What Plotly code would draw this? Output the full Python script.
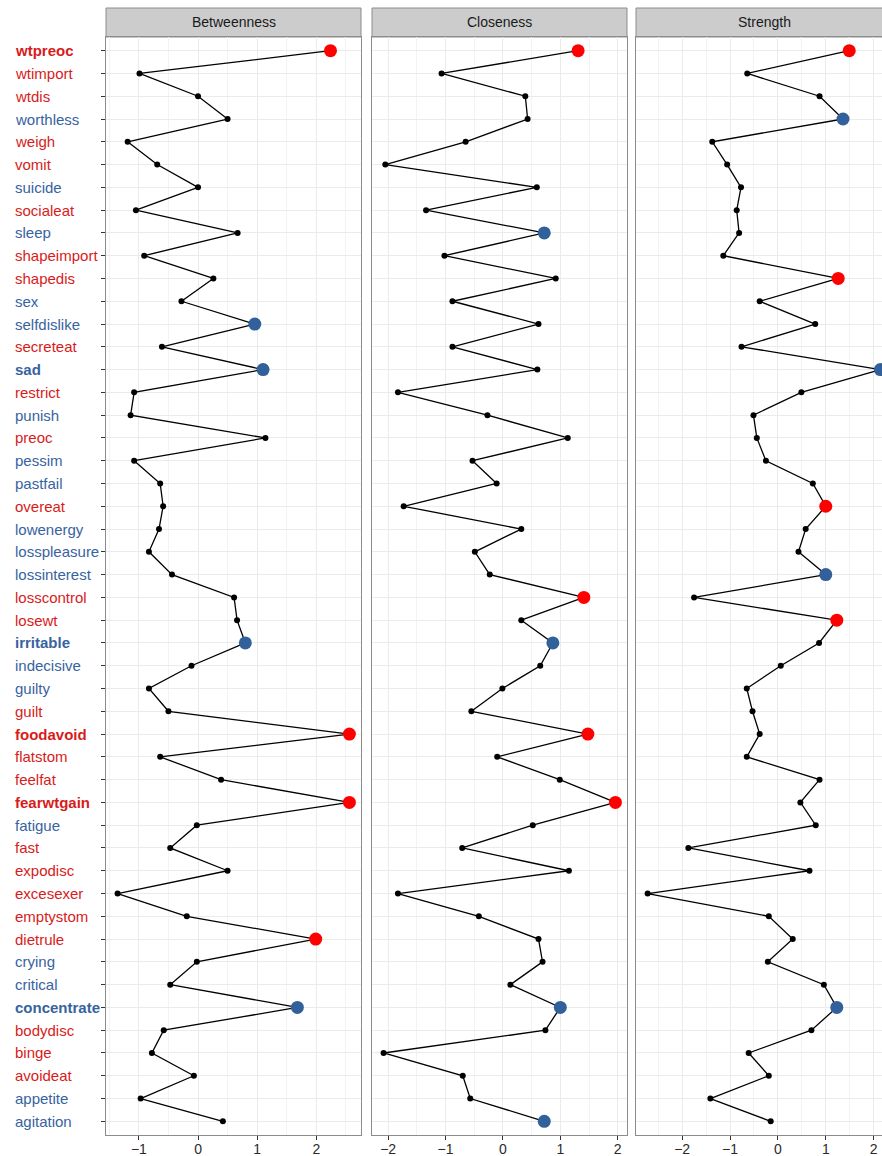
import plotly.graph_objects as go

# ---------------- data ----------------
nodes = ["wtpreoc", "wtimport", "wtdis", "worthless", "weigh", "vomit", "suicide",
         "socialeat", "sleep", "shapeimport", "shapedis", "sex", "selfdislike",
         "secreteat", "sad", "restrict", "punish", "preoc", "pessim", "pastfail",
         "overeat", "lowenergy", "losspleasure", "lossinterest", "losscontrol",
         "losewt", "irritable", "indecisive", "guilty", "guilt", "foodavoid",
         "flatstom", "feelfat", "fearwtgain", "fatigue", "fast", "expodisc",
         "excesexer", "emptystom", "dietrule", "crying", "critical", "concentrate",
         "bodydisc", "binge", "avoideat", "appetite", "agitation"]

ed_nodes = ["wtpreoc", "wtimport", "wtdis", "weigh", "vomit", "socialeat",
            "shapeimport", "shapedis", "secreteat", "restrict", "preoc", "overeat",
            "losscontrol", "losewt", "guilt", "foodavoid", "flatstom", "feelfat",
            "fearwtgain", "fast", "expodisc", "excesexer", "emptystom", "dietrule",
            "bodydisc", "binge", "avoideat"]

bold_nodes = ["wtpreoc", "sad", "irritable", "foodavoid", "fearwtgain", "concentrate"]

betweenness = [2.24, -0.99, 0.00, 0.50, -1.19, -0.69, 0.00, -1.05, 0.67, -0.91,
               0.26, -0.28, 0.96, -0.61, 1.10, -1.08, -1.14, 1.14, -1.08, -0.64,
               -0.59, -0.66, -0.83, -0.44, 0.61, 0.66, 0.80, -0.11, -0.83, -0.50,
               2.56, -0.64, 0.39, 2.56, -0.02, -0.47, 0.50, -1.36, -0.19, 1.99,
               -0.02, -0.47, 1.68, -0.58, -0.78, -0.07, -0.97, 0.42]

closeness = [1.31, -1.07, 0.39, 0.43, -0.65, -2.05, 0.59, -1.34, 0.72, -1.02,
             0.92, -0.88, 0.62, -0.88, 0.60, -1.83, -0.27, 1.13, -0.53, -0.11,
             -1.73, 0.32, -0.49, -0.23, 1.41, 0.32, 0.87, 0.65, -0.01, -0.55,
             1.48, -0.10, 0.99, 1.96, 0.52, -0.71, 1.15, -1.83, -0.42, 0.62,
             0.69, 0.13, 1.00, 0.74, -2.08, -0.70, -0.57, 0.72]

strength = [1.49, -0.64, 0.87, 1.36, -1.37, -1.06, -0.77, -0.86, -0.81, -1.14,
            1.26, -0.38, 0.78, -0.76, 2.14, 0.49, -0.51, -0.44, -0.25, 0.73,
            1.00, 0.58, 0.43, 1.00, -1.75, 1.23, 0.86, 0.06, -0.65, -0.53,
            -0.38, -0.65, 0.87, 0.47, 0.79, -1.87, 0.66, -2.72, -0.19, 0.31,
            -0.21, 0.96, 1.23, 0.70, -0.61, -0.19, -1.41, -0.15]

panel_titles = ["Betweenness", "Closeness", "Strength"]
highlight_betweenness = ["wtpreoc", "selfdislike", "sad", "irritable", "foodavoid",
                         "fearwtgain", "dietrule", "concentrate"]
highlight_closeness = ["wtpreoc", "sleep", "losscontrol", "irritable", "foodavoid",
                       "fearwtgain", "concentrate", "agitation"]
highlight_strength = ["wtpreoc", "worthless", "shapedis", "sad", "overeat",
                      "lossinterest", "losewt", "concentrate"]

# ---------------- style ----------------
W, H = 882, 1156
ML, MT = 106, 37
PANEL_BOTTOM = 1135
MR = 0
MB = H - PANEL_BOTTOM
PW = W - ML - MR
PH = H - MT - MB
FONT = "Liberation Sans, Arial, sans-serif"
RED_PT, BLUE_PT = "#ff0000", "#31609a"
RED_TX, BLUE_TX = "#d81b1b", "#3763a0"
BORDER = "#8c8c8c"
GRID = "#ebebeb"

# panel pixel extents (left, right); the third panel runs past the image edge
panel_px = [(106, 361), (372, 627), (636, 892)]

series = [betweenness, closeness, strength]
highlights = [highlight_betweenness, highlight_closeness, highlight_strength]

fig = go.Figure()

for i, (vals, hl) in enumerate(zip(series, highlights)):
    sfx = "" if i == 0 else str(i + 1)
    fig.add_trace(go.Scatter(
        x=vals, y=nodes, mode="lines+markers",
        line=dict(color="black", width=1.3),
        marker=dict(color="black", size=6),
        xaxis="x" + sfx, yaxis="y" + sfx, showlegend=False, hoverinfo="x+y"))
    hx = [v for nd, v in zip(nodes, vals) if nd in hl]
    hy = [nd for nd in nodes if nd in hl]
    hc = [RED_PT if nd in ed_nodes else BLUE_PT for nd in hy]
    fig.add_trace(go.Scatter(
        x=hx, y=hy, mode="markers",
        marker=dict(color=hc, size=13, line=dict(width=0)),
        xaxis="x" + sfx, yaxis="y" + sfx, showlegend=False, hoverinfo="x+y"))

layout = dict(
    width=W, height=H,
    margin=dict(l=ML, r=MR, t=MT, b=MB, pad=0),
    paper_bgcolor="white", plot_bgcolor="white",
    font=dict(family=FONT, size=14, color="#333333"),
    showlegend=False,
)

n = len(nodes)
shapes = []
annotations = []
for i, vals in enumerate(series):
    sfx = "" if i == 0 else str(i + 1)
    lo, hi = min(vals), max(vals)
    pad = 0.05 * (hi - lo)
    r0, r1 = lo - pad, hi + pad
    left_px, right_px = panel_px[i]
    vis_right = min(right_px, W - MR)
    r1_vis = r0 + (r1 - r0) * (vis_right - left_px) / (right_px - left_px)
    d0 = (left_px - ML) / PW
    d1 = (vis_right - ML) / PW
    layout["xaxis" + sfx] = dict(
        domain=[d0, d1], range=[r0, r1_vis], anchor="y" + sfx,
        showgrid=True, gridcolor=GRID, gridwidth=1.2, dtick=1, tick0=0,
        minor=dict(dtick=0.5, tick0=0, showgrid=True, gridcolor="#f3f3f3", gridwidth=0.8),
        zeroline=False, showline=True, mirror=True, linecolor=BORDER, linewidth=1,
        ticks="outside", ticklen=4, tickcolor="#333333", tickwidth=1,
        ticklabelstandoff=-3,
        tickfont=dict(family=FONT, size=14, color="#2b2b2b"),
        fixedrange=True)
    layout["yaxis" + sfx] = dict(
        type="category", categoryorder="array", categoryarray=nodes,
        range=[n - 0.4, -0.6], anchor="x" + sfx,
        showgrid=True, gridcolor=GRID, gridwidth=1.2, zeroline=False,
        showline=True, mirror=True, linecolor=BORDER, linewidth=1,
        ticks="outside" if i == 0 else "", ticklen=4, tickcolor="#333333",
        showticklabels=False, fixedrange=True)
    if i > 0:
        layout["yaxis" + sfx]["matches"] = "y"
    # facet strip
    shapes.append(dict(type="rect", xref="paper", yref="paper",
                       x0=d0, x1=(right_px - ML) / PW, y0=1.0, y1=1 + 29 / PH,
                       fillcolor="#cccccc", line=dict(color=BORDER, width=1), layer="below"))
    annotations.append(dict(text=panel_titles[i], xref="paper", yref="paper",
                            x=((left_px + right_px) / 2 - ML) / PW, y=1 + 14.5 / PH,
                            xanchor="center", yanchor="middle", showarrow=False,
                            font=dict(family=FONT, size=14, color="#1a1a1a")))

# node labels (left aligned, coloured by group, bold when highlighted in several panels)
for nd in nodes:
    col = RED_TX if nd in ed_nodes else BLUE_TX
    txt = "<b>%s</b>" % nd if nd in bold_nodes else nd
    annotations.append(dict(text=txt, xref="paper", yref="y", x=(13 - ML) / PW, y=nd,
                            xanchor="left", yanchor="middle", showarrow=False,
                            font=dict(family=FONT, size=15, color=col)))

layout["shapes"] = shapes
layout["annotations"] = annotations
fig.update_layout(**layout)

fig.write_html("out.html", config={"displayModeBar": False},
               post_script="document.body.style.margin='0';document.body.style.overflow='hidden';")
